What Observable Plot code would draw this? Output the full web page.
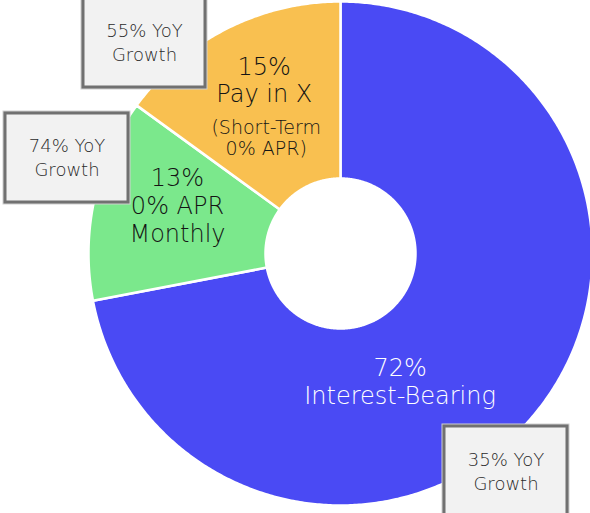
<!DOCTYPE html>
<html><head><meta charset="utf-8">
<script src="https://cdn.jsdelivr.net/npm/d3@7"></script>
<script src="https://cdn.jsdelivr.net/npm/@observablehq/plot@0.6"></script>
<style>body{margin:0;background:#fff} svg{display:block}</style>
</head><body><div id="chart"></div>
<script>
// ---- data ----
const categories = ["Interest-Bearing", "0% APR\nMonthly", "Pay in X"];
const shares = [72, 13, 15];
const notes = ["", "", "(Short-Term\n0% APR)"];
const yoyGrowth = [35, 74, 55];
const colors = ["#4a4af4", "#7be88c", "#f9c050"];
const textColors = ["#ffffff", "#141414", "#141414"];

// ---- layout ----
const W = 590, H = 513, cx = 340, cy = 253, R = 252, R0 = 75;
const FONT = "DejaVu Sans";
const labelPlace = [{r: 141, a: 155}, {r: 170, a: 286.5}, {r: 168, a: null}];
const mainDy = [0, 0, -24];
const noteDy = 34;
const boxPlace = [
  {x1: 444, x2: 567, y1: 426, y2: 530},
  {x1: 5, x2: 128, y1: 113, y2: 202},
  {x1: 83, x2: 205, y1: -10, y2: 87}
];
const boxTextY = [470, 156, 41];

const rows = categories.map((c, i) => ({cat: c, share: shares[i], note: notes[i], growth: yoyGrowth[i], color: colors[i], tcolor: textColors[i], i}));
const arcs = d3.pie().sort(null).value(d => d.share)(rows);
const pt = (ang, rad) => [cx + rad * Math.sin(ang), cy - rad * Math.cos(ang)];

const outline = [];
arcs.forEach(a => {
  const n = Math.max(8, Math.ceil((a.endAngle - a.startAngle) / (Math.PI / 360)));
  for (let k = 0; k <= n; k++) {
    const t = a.startAngle + (a.endAngle - a.startAngle) * k / n;
    const [x, y] = pt(t, R); outline.push({x, y, cat: a.data.cat, color: a.data.color});
  }
  for (let k = n; k >= 0; k--) {
    const t = a.startAngle + (a.endAngle - a.startAngle) * k / n;
    const [x, y] = pt(t, R0); outline.push({x, y, cat: a.data.cat, color: a.data.color});
  }
});

const labels = arcs.map((a, i) => {
  const lp = labelPlace[i];
  const ang = lp.a == null ? (a.startAngle + a.endAngle) / 2 : lp.a * Math.PI / 180;
  const [x, y] = pt(ang, lp.r);
  return {x, y: y + mainDy[i], ny: y + noteDy, main: `${a.data.share}%\n${a.data.cat}`, note: a.data.note, tcolor: a.data.tcolor};
});
const noteLabels = labels.filter(d => d.note);

const boxes = rows.map((d, i) => ({...boxPlace[i], tx: (boxPlace[i].x1 + boxPlace[i].x2) / 2, ty: boxTextY[i], text: `${d.growth}% YoY\nGrowth`}));

const plot = Plot.plot({
  width: W, height: H,
  margin: 0,
  x: {domain: [0, W], range: [0, W], axis: null},
  y: {domain: [0, H], range: [0, H], axis: null},
  style: {fontFamily: FONT, background: "#fff", overflow: "hidden"},
  marks: [
    Plot.line(outline, {x: "x", y: "y", z: "cat", fill: "color", stroke: "#fff", strokeWidth: 2.5, curve: "linear-closed"}),
    Plot.text(labels, {x: "x", y: "y", text: "main", fill: "tcolor", fontSize: 24, lineHeight: 1.15, lineAnchor: "middle", fontWeight: 300}),
    Plot.text(noteLabels, {x: d => d.x + 2, y: "ny", text: "note", fill: "tcolor", fontSize: 19, lineHeight: 1.12, lineAnchor: "middle", fontWeight: 300}),
    Plot.rect(boxes, {x1: "x1", x2: "x2", y1: "y1", y2: "y2", fill: "#f2f2f2", stroke: "#cfcfcf", strokeWidth: 5}),
    Plot.rect(boxes, {x1: "x1", x2: "x2", y1: "y1", y2: "y2", fill: "#f2f2f2", stroke: "#717171", strokeWidth: 3}),
    Plot.text(boxes, {x: "tx", y: "ty", text: "text", fill: "#2a2a2a", fontSize: 18, lineHeight: 1.3, lineAnchor: "middle", fontWeight: 300})
  ]
});
document.getElementById("chart").appendChild(plot);
</script>
</body></html>
